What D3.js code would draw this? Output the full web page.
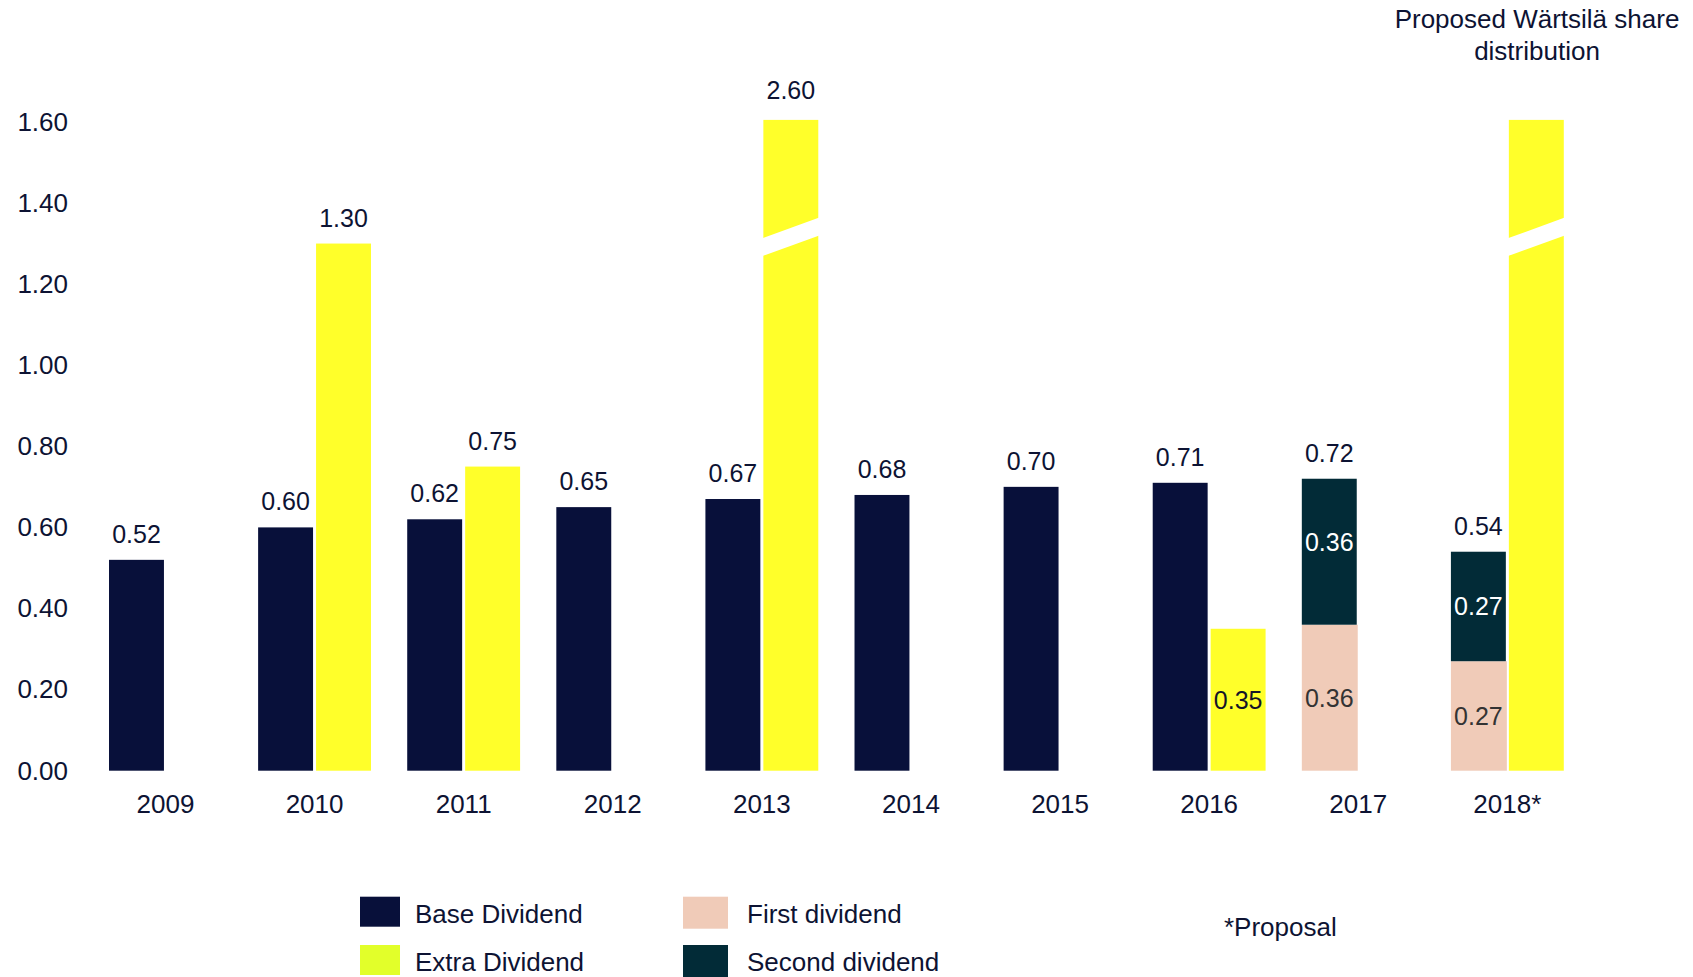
<!DOCTYPE html>
<html>
<head>
<meta charset="utf-8">
<script src="https://cdn.jsdelivr.net/npm/d3@7"></script>
<style>
  body { margin: 0; background: #fff; }
  svg { display: block; font-family: "Liberation Sans", Arial, sans-serif; }
</style>
</head>
<body>
<div id="chart"></div>
<script>
// --- Data ---
const years = ["2009", "2010", "2011", "2012", "2013", "2014", "2015", "2016", "2017", "2018*"];
const baseDividend = [0.52, 0.60, 0.62, 0.65, 0.67, 0.68, 0.70, 0.71, null, null];
const extraDividend = [null, 1.30, 0.75, null, 2.60, null, null, 0.35, null, null];
const firstDividend = [null, null, null, null, null, null, null, null, 0.36, 0.27];
const secondDividend = [null, null, null, null, null, null, null, null, 0.36, 0.27];
const shareDistributionYears = ["2018*"];   // proposed Wärtsilä share distribution, bar runs off the axis
const yTicks = [0, 0.2, 0.4, 0.6, 0.8, 1.0, 1.2, 1.4, 1.6];
const legendItems = [
  { label: "Base Dividend", color: "#08103a" },
  { label: "Extra Dividend", color: "#e2ff2a" },
  { label: "First dividend", color: "#f0cbb8" },
  { label: "Second dividend", color: "#022b37" }
];

const colors = { base: "#08103a", extra: "#ffff2a", first: "#f0cbb8", second: "#022b37" };
const textColor = "#0d1333";
const width = 1693, height = 977;

const svg = d3.select("#chart").append("svg")
  .attr("width", width)
  .attr("height", height);

// --- Scales ---
const yMax = 1.6;
const y = d3.scaleLinear().domain([0, yMax]).range([770.7, 121.9]);

const x = d3.scaleBand().domain(years)
  .range([90.9, 1581.9])
  .paddingInner(0.243)
  .paddingOuter(0.1215);

const xSub = d3.scaleBand().domain(["base", "extra"])
  .range([0, x.bandwidth()])
  .paddingInner(0.052);

const bw = xSub.bandwidth();
const fmt = d3.format(".2f");

// --- Axes ---
const yAxis = d3.axisLeft(y).tickValues(yTicks).tickFormat(fmt).tickSize(0).tickPadding(0);
svg.append("g")
  .attr("transform", "translate(68,0)")
  .call(yAxis)
  .call(g => g.select(".domain").remove())
  .call(g => g.selectAll("text")
    .attr("font-size", 26)
    .attr("font-family", "Liberation Sans, Arial, sans-serif")
    .attr("fill", textColor));

const xAxis = d3.axisBottom(x).tickSize(0).tickPadding(23.5);
svg.append("g")
  .attr("transform", `translate(0,${y(0)})`)
  .call(xAxis)
  .call(g => g.select(".domain").remove())
  .call(g => g.selectAll("text")
    .attr("font-size", 26)
    .attr("font-family", "Liberation Sans, Arial, sans-serif")
    .attr("fill", textColor));

// --- Bars ---
const rows = years.map((yr, i) => ({
  year: yr,
  base: baseDividend[i],
  extra: extraDividend[i],
  first: firstDividend[i],
  second: secondDividend[i],
  share: shareDistributionYears.includes(yr)
}));

const plot = svg.append("g");
const labels = svg.append("g")
  .attr("font-size", 25)
  .attr("text-anchor", "middle");

function capped(v) { return Math.min(v, yMax); }

rows.forEach(r => {
  const x0 = x(r.year);

  if (r.base != null) {
    plot.append("rect")
      .attr("x", x0 + xSub("base")).attr("width", bw)
      .attr("y", y(r.base)).attr("height", y(0) - y(r.base))
      .attr("fill", colors.base);
    labels.append("text")
      .attr("x", x0 + xSub("base") + bw / 2)
      .attr("y", y(r.base) - 17)
      .attr("fill", textColor)
      .text(fmt(r.base));
  }

  if (r.first != null) {
    const top = r.first + r.second;
    plot.append("rect")
      .attr("x", x0 + xSub("base")).attr("width", bw + 1)
      .attr("y", y(r.first)).attr("height", y(0) - y(r.first))
      .attr("fill", colors.first);
    plot.append("rect")
      .attr("x", x0 + xSub("base")).attr("width", bw)
      .attr("y", y(top)).attr("height", y(r.first) - y(top))
      .attr("fill", colors.second);
    labels.append("text")
      .attr("x", x0 + xSub("base") + bw / 2)
      .attr("y", (y(0) + y(r.first)) / 2)
      .attr("dy", "0.36em")
      .attr("fill", "#333333")
      .text(fmt(r.first));
    // the 2017 label sits a little above the middle of its segment
    labels.append("text")
      .attr("x", x0 + xSub("base") + bw / 2)
      .attr("y", (y(r.first) + y(top)) / 2 - (r.year === "2017" ? 10 : 0))
      .attr("dy", "0.36em")
      .attr("fill", "#ffffff")
      .text(fmt(r.second));
    labels.append("text")
      .attr("x", x0 + xSub("base") + bw / 2)
      .attr("y", y(top) - 17)
      .attr("fill", textColor)
      .text(fmt(top));
  }

  const ext = r.extra != null ? r.extra : (r.share ? Infinity : null);
  if (ext != null) {
    const v = capped(ext);
    const ex = x0 + xSub("extra");
    plot.append("rect")
      .attr("x", ex).attr("width", bw)
      .attr("y", y(v) - (ext > yMax ? 2 : 0))
      .attr("height", y(0) - y(v) + (ext > yMax ? 2 : 0))
      .attr("fill", colors.extra);

    if (ext > yMax) {
      // axis break drawn as a slanted white cut through the bar
      const lo = 1.269, hi = 1.313, rise = 0.051;
      plot.append("polygon")
        .attr("points", [
          [ex - 1, y(lo)], [ex - 1, y(hi)],
          [ex + bw + 1, y(hi + rise)], [ex + bw + 1, y(lo + rise)]
        ].map(p => p.join(",")).join(" "))
        .attr("fill", "#ffffff");
    }

    if (r.extra != null) {
      if (r.extra < 0.5) {
        labels.append("text")
          .attr("x", ex + bw / 2)
          .attr("y", (y(0) + y(v)) / 2)
          .attr("dy", "0.36em")
          .attr("fill", "#141428")
          .text(fmt(r.extra));
      } else {
        labels.append("text")
          .attr("x", ex + bw / 2)
          .attr("y", y(v) - (ext > yMax ? 23 : 17))
          .attr("fill", textColor)
          .text(fmt(r.extra));
      }
    }
  }
});

// --- Title over the share distribution bar ---
const title = svg.append("text")
  .attr("x", 1537)
  .attr("y", 28.3)
  .attr("text-anchor", "middle")
  .attr("font-size", 26)
  .attr("fill", textColor);
title.append("tspan").attr("x", 1537).text("Proposed Wärtsilä share");
title.append("tspan").attr("x", 1537).attr("dy", 31.7).text("distribution");

// --- Legend ---
const legend = svg.append("g").attr("font-size", 26).attr("fill", textColor);
legendItems.forEach((d, i) => {
  const col = Math.floor(i / 2), row = i % 2;
  const lx = 360 + col * 323, ly = 896.7 + row * 48.3;
  legend.append("rect")
    .attr("x", lx).attr("y", ly)
    .attr("width", col === 0 ? 40 : 45).attr("height", col === 0 ? 30 : 32)
    .attr("fill", d.color);
  legend.append("text")
    .attr("x", lx + (col === 0 ? 55 : 64))
    .attr("y", ly + 26)
    .text(d.label);
});

svg.append("text")
  .attr("x", 1224)
  .attr("y", 936)
  .attr("font-size", 26)
  .attr("fill", textColor)
  .text("*Proposal");
</script>
</body>
</html>
